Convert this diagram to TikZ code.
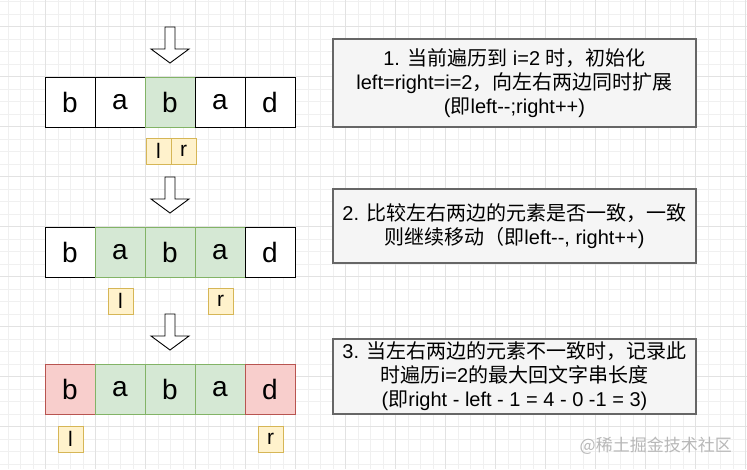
\documentclass[tikz,border=0pt]{standalone}
\usepackage{fontspec}
\setmainfont{Liberation Sans}
\newfontfamily\cjk{Noto Sans CJK SC}
\definecolor{gfill}{HTML}{D5E8D4}
\definecolor{gline}{HTML}{82B366}
\definecolor{rfill}{HTML}{F8CECC}
\definecolor{rline}{HTML}{B85450}
\definecolor{yfill}{HTML}{FFF2CC}
\definecolor{yline}{HTML}{D6B656}
\definecolor{dfill}{HTML}{F5F5F5}
\definecolor{dline}{HTML}{666666}
\definecolor{gridminor}{HTML}{F0F0F0}
\definecolor{gridmajor}{HTML}{E2E2E2}
\definecolor{wm}{HTML}{B8B8B8}
\newcommand{\downblock}[2]{%
  \draw[line width=0.9pt, fill=white, line join=miter]
    (#1-5,#2) -- (#1+5,#2) -- (#1+5,#2+22) -- (#1+19,#2+22) -- (#1,#2+36)
    -- (#1-19,#2+22) -- (#1-5,#2+22) -- cycle;}
\tikzset{
  cell/.style={draw, line width=0.9pt, minimum width=50pt, minimum height=50pt,
    inner sep=0pt, outer sep=0pt, font=\fontsize{28}{30}\selectfont},
  gcell/.style={cell, draw=gline, fill=gfill},
  rcell/.style={cell, draw=rline, fill=rfill},
  wcell/.style={cell, draw=black, fill=white},
  lab/.style={draw=yline, fill=yfill, line width=0.8pt, minimum width=25pt,
    minimum height=26pt, inner sep=0pt, font=\fontsize{21}{23}\selectfont},
  desc/.style={draw=dline, fill=dfill, line width=1.2pt, minimum width=363pt,
    align=center, inner sep=0pt, font=\fontsize{20}{24}\selectfont},
}
\begin{document}
\begin{tikzpicture}[x=1pt,y=-1pt]
\path[use as bounding box, fill=white] (0,0) rectangle (747,469);
% grid
\foreach \k in {0,...,59} {\draw[gridminor, line width=0.6pt] (8+12.5*\k,0) -- (8+12.5*\k,469);}
\foreach \k in {0,...,37} {\draw[gridminor, line width=0.6pt] (0,1.5+12.5*\k) -- (747,1.5+12.5*\k);}
\foreach \k in {0,...,14} {\draw[gridmajor, line width=0.7pt] (45.5+50*\k,0) -- (45.5+50*\k,469);}
\foreach \k in {0,...,9} {\draw[gridmajor, line width=0.7pt] (0,26.5+50*\k) -- (747,26.5+50*\k);}

% row 1
\downblock{170}{27}
\node[wcell] (a1) at (70,102) {b};
\node[wcell] (a2) at (120,102) {a};
\node[gcell] (a3) at (170,102) {b};
\node[wcell] (a4) at (220,102) {a};
\node[wcell] (a5) at (270,102) {d};
\node[lab] (l1) at (158.5,151) {l};
\node[lab] (r1) at (183.5,151) {r};

% row 2
\downblock{170}{177}
\node[wcell] (b1) at (70,252) {b};
\node[gcell] (b2) at (120,252) {a};
\node[gcell] (b3) at (170,252) {b};
\node[gcell] (b4) at (220,252) {a};
\node[wcell] (b5) at (270,252) {d};
\node[lab] (l2) at (120.5,301) {l};
\node[lab] (r2) at (220.5,301) {r};

% row 3
\downblock{170}{314}
\node[rcell] (c1) at (70,389) {b};
\node[gcell] (c2) at (120,389) {a};
\node[gcell] (c3) at (170,389) {b};
\node[gcell] (c4) at (220,389) {a};
\node[rcell] (c5) at (270,389) {d};
\node[lab] (l3) at (70.5,439) {l};
\node[lab] (r3) at (270.5,439) {r};

% descriptions
\node[desc, minimum height=88pt] (d1) at (514.5,83)
  {1. {\cjk 当前遍历到} i=2 {\cjk 时，初始化}\\
   left=right=i=2{\cjk ，向左右两边同时扩展}\\
   ({\cjk 即}left-{}-;right++)};
\node[desc, minimum height=74pt] (d2) at (514.5,226)
  {2. {\cjk 比较左右两边的元素是否一致，一致}\\
   {\cjk 则继续移动（即}left-{}-, right++)};
\node[desc, minimum height=75pt] (d3) at (514.5,376.5)
  {3. {\cjk 当左右两边的元素不一致时，记录此}\\
   {\cjk 时遍历}i=2{\cjk 的最大回文字串长度}\\
   ({\cjk 即}right - left - 1 = 4 - 0 -1 = 3)};

% watermark
\node[text=wm, font=\cjk\fontsize{17}{19}\selectfont, anchor=east, inner sep=0pt] (wmk) at (732,446) {@稀土掘金技术社区};
\end{tikzpicture}
\end{document}
